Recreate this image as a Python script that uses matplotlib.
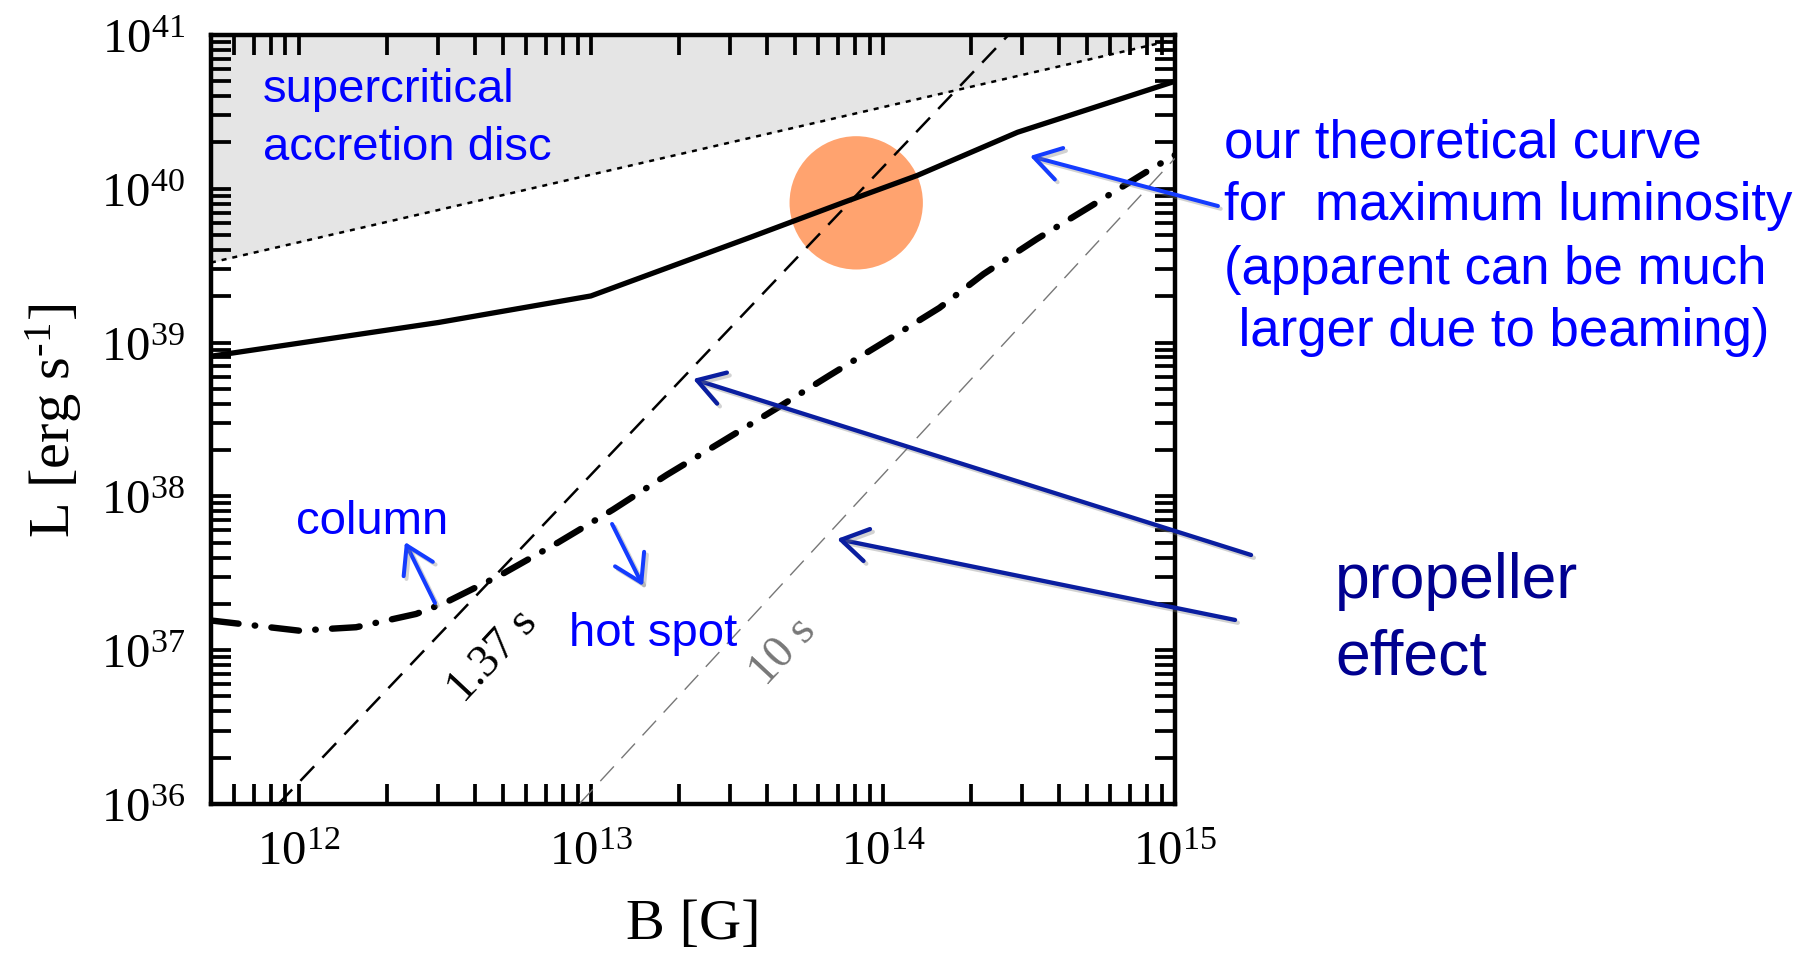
import matplotlib
matplotlib.use("Agg")
import matplotlib.pyplot as plt
import matplotlib.patheffects as pe
from matplotlib.ticker import LogLocator, LogFormatterMathtext, NullFormatter

plt.rcParams["font.family"] = ["Liberation Serif", "DejaVu Serif"]
plt.rcParams["mathtext.fontset"] = "custom"
plt.rcParams["mathtext.rm"] = "Liberation Serif"
plt.rcParams["mathtext.it"] = "Liberation Serif:italic"
plt.rcParams["mathtext.bf"] = "Liberation Serif:bold"
plt.rcParams["lines.scale_dashes"] = False

# ---- data -------------------------------------------------------------
# theoretical maximum luminosity
B_max = [5.0e11, 3.0e12, 1.0e13, 3.52e13, 7.35e13, 1.31e14, 2.89e14, 1.0e15]
L_max = [8.15e38, 1.35e39, 2.01e39, 4.84e39, 8.17e39, 1.22e40, 2.33e40, 5.0e40]

# column / hot-spot luminosity
B_col = [5.0e11, 1.0e12, 1.57e12, 2.52e12, 3.16e12, 4.86e12, 7.73e12, 1.19e13,
         1.82e13, 2.81e13, 4.29e13, 6.62e13, 1.02e14, 1.56e14, 2.21e14, 3.37e14,
         5.14e14, 7.94e14, 1.0e15]
L_col = [1.56e37, 1.34e37, 1.41e37, 1.72e37, 2.03e37, 3.05e37, 5.02e37, 8.20e37,
         1.38e38, 2.27e38, 3.70e38, 6.18e38, 1.02e39, 1.68e39, 2.79e39, 4.72e39,
         7.69e39, 1.28e40, 1.66e40]

# supercritical disc boundary
B_disc = [5.0e11, 1.0e15]
L_disc = [3.31e39, 9.33e40]

# propeller lines for two spin periods
B_p137 = [8.51e11, 2.69e14]
L_p137 = [1.0e36, 1.0e41]
B_p10 = [9.12e12, 1.0e15]
L_p10 = [1.0e36, 1.58e40]

# highlighted source
B_src = [8.1e13]
L_src = [8.1e39]

x_lim = (5e11, 1e15)
y_lim = (1e36, 1e41)

# ---- figure -----------------------------------------------------------
fig = plt.figure(figsize=(18.2, 9.54), dpi=100)
ax = fig.add_axes([0.1159, 0.1562, 0.5297, 0.8061])
ax.set_xscale("log")
ax.set_yscale("log")
ax.set_xlim(*x_lim)
ax.set_ylim(*y_lim)

ax.fill_between(B_disc, L_disc, y_lim[1], color="#e5e5e5", lw=0, zorder=0)
ax.plot(B_disc, L_disc, color="black", lw=1.8, ls=(0, (3.6, 4.3)), zorder=2)

ax.scatter(B_src, L_src, s=96 ** 2, color="#ffa36f", edgecolors="none", zorder=1)

ax.plot(B_p137, L_p137, color="black", lw=1.8, ls=(0, (14.4, 8.6)), zorder=3)
ax.plot(B_p10, L_p10, color="#777777", lw=1.0, ls=(0, (14.4, 8.0)), zorder=3)

ax.plot(B_max, L_max, color="black", lw=3.8, solid_joinstyle="round", zorder=4)
ax.plot(B_col, L_col, color="black", lw=4.6, ls=(0, (20.0, 11.7, 0.4, 11.7)),
        dash_capstyle="round", zorder=4)

# ---- axes styling -----------------------------------------------------
for sp in ax.spines.values():
    sp.set_linewidth(3.2)
ax.xaxis.set_major_locator(LogLocator(base=10, numticks=20))
ax.yaxis.set_major_locator(LogLocator(base=10, numticks=20))
ax.xaxis.set_minor_locator(LogLocator(base=10, subs=range(2, 10), numticks=40))
ax.yaxis.set_minor_locator(LogLocator(base=10, subs=range(2, 10), numticks=40))
ax.xaxis.set_major_formatter(LogFormatterMathtext())
ax.yaxis.set_major_formatter(LogFormatterMathtext())
ax.xaxis.set_minor_formatter(NullFormatter())
ax.yaxis.set_minor_formatter(NullFormatter())
ax.tick_params(which="both", direction="in", top=True, right=True,
               length=14.5, width=2.7, labelsize=35, pad=19)

ax.set_xlabel("B [G]", fontsize=42)
ax.set_ylabel(r"L [erg s$^{\text{-1}}$]", fontsize=42)
ax.xaxis.set_label_coords(0.5, -0.122)
ax.yaxis.set_label_coords(-0.132, 0.5)

# ---- annotations ------------------------------------------------------
sans = "Liberation Sans"
blue_txt = "#0000ff"
blue_arr = "#143cff"
navy_arr = "#0a1ea0"
navy_txt = "#000090"

shadow = [pe.SimpleLineShadow(offset=(2, -2), shadow_color="gray", alpha=0.35),
          pe.Normal()]

fig.text(0.1445, 0.8934, "supercritical", family=sans, fontsize=34,
         color=blue_txt, va="baseline")
fig.text(0.1445, 0.8323, "accretion disc", family=sans, fontsize=34,
         color=blue_txt, va="baseline")

theory_lines = ["our theoretical curve", "for  maximum luminosity",
                "(apparent can be much", " larger due to beaming)"]
theory_y = [0.8354, 0.7694, 0.7023, 0.6373]
for line, yy in zip(theory_lines, theory_y):
    fig.text(0.6725, yy, line, family=sans, fontsize=38, color=blue_txt,
             va="baseline")

fig.text(0.1626, 0.4403, "column", family=sans, fontsize=34, color=blue_txt,
         va="baseline")
fig.text(0.3126, 0.3229, "hot spot", family=sans, fontsize=34, color=blue_txt,
         va="baseline")

fig.text(0.7335, 0.3732, "propeller", family=sans, fontsize=45, color=navy_txt,
         va="baseline")
fig.text(0.7335, 0.2925, "effect", family=sans, fontsize=45, color=navy_txt,
         va="baseline")

fig.text(0.2709, 0.3124, "1.37 s", fontsize=33, color="black", rotation=47,
         ha="center", va="center", rotation_mode="anchor")
fig.text(0.4302, 0.3166, "10 s", fontsize=33, color="#777777", rotation=47,
         ha="center", va="center", rotation_mode="anchor")


def arrow(tail, head, color, lw=2.9):
    fig.add_artist(matplotlib.patches.FancyArrowPatch(
        tail, head, transform=fig.transFigure,
        arrowstyle="->,head_length=0.42,head_width=0.26",
        mutation_scale=45, color=color, lw=lw, shrinkA=0, shrinkB=0,
        path_effects=shadow, zorder=10))


arrow((0.6692, 0.7830), (0.5659, 0.8354), blue_arr)
arrow((0.2390, 0.3669), (0.2225, 0.4308), blue_arr)
arrow((0.3363, 0.4497), (0.3533, 0.3847), blue_arr)
arrow((0.6874, 0.4172), (0.3808, 0.6017), navy_arr, lw=3.1)
arrow((0.6786, 0.3491), (0.4599, 0.4340), navy_arr, lw=3.1)

fig.savefig("out.png", dpi=100, facecolor="white")
